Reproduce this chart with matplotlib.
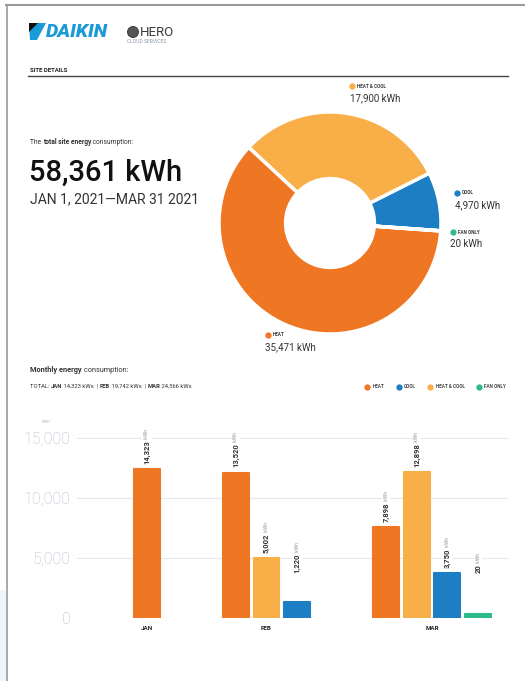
import numpy as np
import matplotlib
matplotlib.use("Agg")
from matplotlib import pyplot as plt
from matplotlib.lines import Line2D
from matplotlib.patches import Polygon, Rectangle, Circle

# ---- data ----
donut_modes = ["COOL", "HEAT & COOL", "HEAT", "FAN ONLY"]
donut_kwh = [4970, 17900, 35471, 20]

months = ["JAN", "FEB", "MAR"]
bar_month = ["JAN", "FEB", "FEB", "FEB", "MAR", "MAR", "MAR", "MAR"]
bar_mode = ["HEAT", "HEAT", "HEAT & COOL", "COOL",
            "HEAT", "HEAT & COOL", "COOL", "FAN ONLY"]
bar_height = [12400, 12100, 4980, 1300, 7550, 12150, 3730, 330]
bar_label = ["14,323", "13,520", "5,002", "1,220",
             "7,898", "12,898", "3,750", "20"]
month_totals = ["14,323", "19,742", "24,566"]

legend_modes = ["HEAT", "COOL", "HEAT & COOL", "FAN ONLY"]
colors = {"HEAT": "#EF7623", "COOL": "#1D7EC4",
          "HEAT & COOL": "#F8AF48", "FAN ONLY": "#2DBA8C"}

plt.rcParams["font.family"] = ["Roboto", "DejaVu Sans"]

W, H = 525, 681
fig = plt.figure(figsize=(W / 100, H / 100), dpi=100)

# invisible full-page axes for the page furniture
bg = fig.add_axes([0, 0, 1, 1])
bg.set_xlim(0, W)
bg.set_ylim(H, 0)
bg.axis("off")


def line_parts(x, y, parts, size, color="#222222"):
    # pieces of one line, each placed after the previous one
    t = bg.text(x, y, parts[0][0], fontsize=size, fontweight=parts[0][1],
                color=color, va="center", ha="left")
    for s, w in parts[1:]:
        t = bg.annotate(s, xy=(1, 0), xycoords=t, fontsize=size,
                        fontweight=w, color=color, va="bottom", ha="left",
                        annotation_clip=False)
    return t


# page border and background
bg.add_patch(Rectangle((0, 590), 6, 91, color="#EEF5FC", lw=0))
bg.plot([6, W], [4.5, 4.5], color="#9a9a9a", lw=1.5)
bg.plot([7, 7], [4.5, H], color="#9a9a9a", lw=1.2)

# logos
bg.add_patch(Polygon([(30, 40), (37, 40), (46, 23), (29, 23)],
                     color="#1B9AD8", lw=0))
bg.add_patch(Polygon([(29, 23), (38, 23), (29, 32)], color="#111111", lw=0))
bg.text(46, 32, "DAIKIN", fontsize=14, fontweight="heavy",
        fontstyle="italic", color="#1B9AD8", va="center", ha="left")
bg.add_patch(Circle((133, 32), 5.5, facecolor="#555555",
                    edgecolor="#333333", lw=0.6))
bg.text(140, 32.5, "HERO", fontsize=9.5, color="#3a3a3a",
        va="center", ha="left")
bg.text(127, 41.5, "CLOUD SERVICES", fontsize=3.6, color="#8797a6",
        va="center", ha="left")

# section header
bg.text(30, 71, "SITE DETAILS", fontsize=4.3, fontweight="bold",
        color="#222222", va="center", ha="left")
bg.plot([28, 508], [75.5, 75.5], color="#444444", lw=1)

total = sum(donut_kwh)
line_parts(30, 142, [("The ", "normal"), ("total site energy", "bold"),
                     (" consumption:", "normal")], 4.8, "#333333")
bg.text(29, 173, f"{total:,} kWh", fontsize=21, fontweight="medium",
        color="#111111", va="center", ha="left")
bg.text(30, 199, "JAN 1, 2021\u2014MAR 31 2021", fontsize=10,
        color="#333333", va="center", ha="left")

# ---- donut ----
cx, cy, r = 330, 223, 111
axd = fig.add_axes([(cx - r) / W, 1 - (cy + r) / H, 2 * r / W, 2 * r / H])
axd.pie(donut_kwh, colors=[colors[m] for m in donut_modes], startangle=-4,
        counterclock=True, radius=1,
        wedgeprops=dict(width=0.6, edgecolor="white", linewidth=2.5))
axd.set_xlim(-1, 1)
axd.set_ylim(-1, 1)
axd.axis("off")

donut_label_pos = {"HEAT & COOL": (352, 86, 350, 98),
                   "COOL": (457, 193, 455, 205),
                   "FAN ONLY": (453, 232, 450, 244),
                   "HEAT": (268, 335, 265, 347)}
for m, v in zip(donut_modes, donut_kwh):
    dx, dy, tx, ty = donut_label_pos[m]
    bg.plot(dx, dy, "o", color=colors[m], markersize=3.5)
    bg.text(dx + 5, dy, m, fontsize=3.3, fontweight="bold",
            color="#333333", va="center", ha="left")
    bg.text(tx, ty, f"{v:,} kWh", fontsize=7, color="#333333",
            va="center", ha="left")

# ---- monthly section ----
line_parts(30, 370, [("Monthly energy", "bold"), (" consumption:", "normal")],
           5.3, "#333333")
tot_parts = [("TOTAL: ", "normal")]
for i, (mo, tv) in enumerate(zip(months, month_totals)):
    if i:
        tot_parts.append(("  | ", "normal"))
    tot_parts.append((mo, "bold"))
    tot_parts.append((f" {tv} kWs", "normal"))
line_parts(30, 386, tot_parts, 4.2, "#333333")

handles = [Line2D([], [], marker="o", ls="", color=colors[m], markersize=3.5)
           for m in legend_modes]
fig.legend(handles, legend_modes, loc="center right",
           bbox_to_anchor=(510 / W, 1 - 387 / H), ncol=4, frameon=False,
           prop=dict(size=3.3, weight="bold"), handletextpad=0.1,
           columnspacing=2.2, labelcolor="#444444")

# bar positions: consecutive slots, a wide gap between months
slot, gap = 1.0, 2.9
positions = []
x = 0.0
prev = None
for mo in bar_month:
    if prev is not None:
        x += slot if mo == prev else gap
    positions.append(x)
    prev = mo
positions = np.array(positions)
centers = [positions[[b == mo for b in bar_month]].mean() for mo in months]

px_per = 30.65
x0 = 147
ax = fig.add_axes([77 / W, (H - 618) / H, 431 / W, 192 / H])
ax.set_xlim((77 - x0) / px_per, (508 - x0) / px_per)
ax.set_ylim(0, 16000)
ax.bar(positions, bar_height, width=0.84,
       color=[colors[m] for m in bar_mode],
       edgecolor=[colors[m] for m in bar_mode], linewidth=1.5,
       joinstyle="round", zorder=3)

for xp, h, lab in zip(positions, bar_height, bar_label):
    t = ax.annotate(lab, xy=(xp, max(h, 3300)), xytext=(0, 4),
                    textcoords="offset points", rotation=90, ha="center",
                    va="bottom", fontsize=5.5, fontweight="bold",
                    color="#333333", zorder=4, annotation_clip=False,
                    bbox=dict(facecolor="white", edgecolor="none", pad=1.2))
    ax.annotate(" kWh", xy=(0.5, 1), xycoords=t, rotation=90, ha="center",
                va="bottom", fontsize=3.6, color="#999999", zorder=4,
                annotation_clip=False,
                bbox=dict(facecolor="white", edgecolor="none", pad=1.2))

ax.set_yticks([0, 5000, 10000, 15000])
ax.set_yticklabels([f"{v:,}" for v in [0, 5000, 10000, 15000]],
                   fontweight="light")
ax.tick_params(axis="y", length=0, pad=4.5, labelsize=11.5,
               labelcolor="#B3BEC9")
ax.set_xticks(centers)
ax.set_xticklabels(months, fontweight="bold")
ax.tick_params(axis="x", length=0, pad=6, labelsize=4.5, labelcolor="#222222")
ax.grid(axis="y", color="#E2EAF0", lw=0.8, zorder=0)
ax.set_axisbelow(True)
for s in ax.spines.values():
    s.set_visible(False)
bg.text(46, 422, "KWH", fontsize=3, color="#B5BFC9",
        va="center", ha="center")

fig.savefig("out.png", dpi=100)
